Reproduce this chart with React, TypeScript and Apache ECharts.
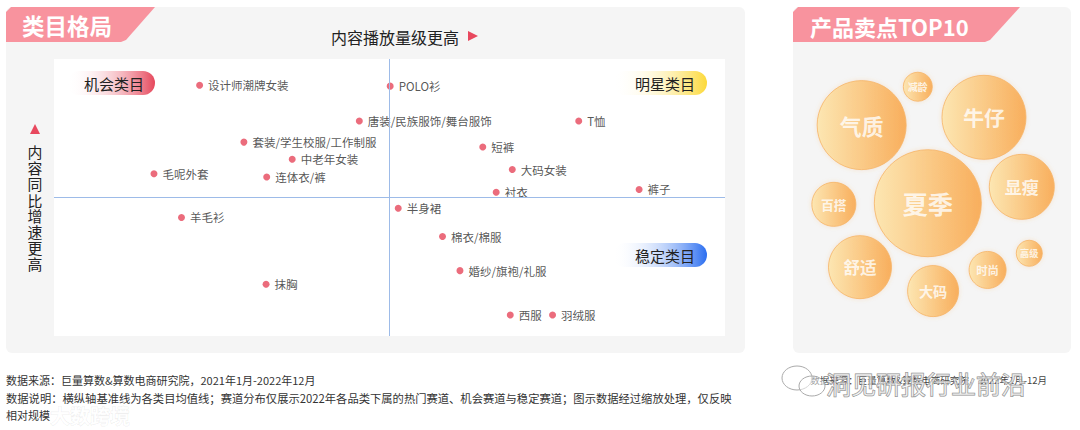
import React, { useEffect, useRef } from "react";
import * as echarts from "echarts";

// ---- Data: category landscape (scaled 0-100) ----
const categories = [
  "设计师潮牌女装", "POLO衫", "唐装/民族服饰/舞台服饰", "T恤", "套装/学生校服/工作制服",
  "短裤", "中老年女装", "大码女装", "毛呢外套", "连体衣/裤", "衬衣", "裤子", "半身裙",
  "羊毛衫", "棉衣/棉服", "婚纱/旗袍/礼服", "抹胸", "西服", "羽绒服",
];
const playVolume = [21.7, 50.1, 45.5, 78.2, 28.3, 63.9, 35.5, 68.3, 14.9, 31.7, 65.9, 87.2, 51.3, 19.0, 57.9, 60.5, 31.6, 68.0, 74.3];
const growthRate = [90.5, 90.2, 77.6, 77.6, 70.0, 68.2, 63.8, 60.1, 58.6, 57.4, 51.9, 52.9, 46.1, 42.8, 35.9, 23.6, 18.7, 7.6, 7.6];
const meanPlay = 50;
const meanGrowth = 50;
const quadrantNames = ["机会类目", "明星类目", "稳定类目"];
const xAxisTitle = "内容播放量级更高";
const yAxisTitle = "内容同比增速更高";

// ---- Data: selling points TOP10 ----
const sellingPoints = ["夏季", "气质", "牛仔", "显瘦", "舒适", "大码", "百搭", "时尚", "减龄", "高级"];
const sellingScore = [107, 89, 84, 65, 63, 51, 44, 37, 29, 26];
const cloudX = [48.5, 24.7, 68.7, 82.3, 24.1, 50.4, 14.7, 70.0, 44.9, 85.0];
const cloudY = [45.6, 73.7, 76.5, 51.5, 22.6, 14.0, 45.2, 21.6, 87.5, 27.6];

const FONT = '"Noto Sans CJK SC", "Noto Sans", sans-serif';

export default function App() {
  const ref = useRef<HTMLDivElement>(null);

  useEffect(() => {
    if (!ref.current) return;
    const chart = echarts.init(ref.current, undefined, { renderer: "svg" });

    const pill = (x: number, y: number, w: number, color: string, text: string, tx: number) => [
      {
        type: "rect",
        shape: { x, y, width: w, height: 24, r: 12 },
        style: {
          fill: new echarts.graphic.LinearGradient(0, 0, 1, 0, [
            { offset: 0, color: "rgba(255,255,255,0)" },
            { offset: 1, color },
          ]),
        },
        silent: true,
      },
      {
        type: "text",
        style: { text, x: tx, y: y + 12, fill: "#222", font: `15px ${FONT}`, textAlign: "center", textVerticalAlign: "middle" },
        silent: true,
      },
    ];

    const verticalChars = yAxisTitle.split("").map((ch, i) => ({
      type: "text",
      style: { text: ch, x: 35, y: 152 + i * 16, fill: "#222", font: `13.5px ${FONT}`, textAlign: "center", textVerticalAlign: "middle" },
      scaleX: 1.1,
      scaleY: 1.1,
      originX: 35,
      originY: 152 + i * 16,
      silent: true,
    }));

    const option: any = {
      animation: false,
      textStyle: { fontFamily: FONT },
      graphic: [
        { type: "rect", shape: { x: 6, y: 7, width: 739, height: 346, r: 6 }, style: { fill: "#f5f5f5" }, silent: true },
        { type: "rect", shape: { x: 793, y: 7, width: 278, height: 346, r: 6 }, style: { fill: "#f5f5f5" }, silent: true },
        { type: "rect", shape: { x: 54, y: 59, width: 671, height: 277 }, style: { fill: "#ffffff" }, silent: true },
        { type: "polygon", shape: { points: [[6, 12], [11, 7], [155, 7], [126, 40], [121, 42], [6, 42]] }, style: { fill: "#f8939e" }, silent: true },
        { type: "polygon", shape: { points: [[793, 12], [798, 7], [1020, 7], [990, 40], [985, 42], [793, 42]] }, style: { fill: "#f8939e" }, silent: true },
        { type: "text", style: { text: "类目格局", x: 22, y: 25, fill: "#fff", font: `bold 22.5px ${FONT}`, textVerticalAlign: "middle" }, silent: true },
        { type: "text", style: { text: "产品卖点TOP10", x: 810, y: 26, fill: "#fff", font: `bold 22px ${FONT}`, textVerticalAlign: "middle" }, silent: true },
        { type: "text", style: { text: xAxisTitle, x: 395, y: 37, fill: "#222", font: `16px ${FONT}`, textAlign: "center", textVerticalAlign: "middle" }, silent: true },
        { type: "polygon", shape: { points: [[468, 31], [478, 36], [468, 41]] }, style: { fill: "#e8485e" }, silent: true },
        { type: "polygon", shape: { points: [[30, 134], [40, 134], [35, 124]] }, style: { fill: "#e8485e" }, silent: true },
        ...verticalChars,
        ...pill(67, 71, 88, "#e6485c", quadrantNames[0], 114),
        ...pill(613, 71, 94, "#fcd93a", quadrantNames[1], 665),
        ...pill(613, 243, 94, "#2b6ef0", quadrantNames[2], 665),
        { type: "text", style: { text: "数据来源：巨量算数&算数电商研究院，2021年1月-2022年12月", x: 6, y: 380, fill: "#333", font: `11px ${FONT}`, textVerticalAlign: "middle" }, silent: true },
        { type: "text", style: { text: "数据说明：横纵轴基准线为各类目均值线；赛道分布仅展示2022年各品类下属的热门赛道、机会赛道与稳定赛道；图示数据经过缩放处理，仅反映", x: 6, y: 398, fill: "#333", font: `11.3px ${FONT}`, textVerticalAlign: "middle" }, silent: true },
        { type: "text", style: { text: "相对规模", x: 6, y: 415, fill: "#333", font: `11px ${FONT}`, textVerticalAlign: "middle" }, silent: true },
        { type: "text", style: { text: "数据来源：巨量算数&算数电商研究院，2022年1月-12月", x: 1047, y: 380, fill: "#444", font: `9.5px ${FONT}`, textAlign: "right", textVerticalAlign: "middle" }, silent: true },
        { type: "text", style: { text: "大数跨境", x: 50, y: 415, fill: "rgba(255,255,255,0.75)", stroke: "rgba(0,0,0,0.08)", lineWidth: 1, font: `bold 20px ${FONT}`, textVerticalAlign: "middle" }, silent: true },
        { type: "ellipse", shape: { cx: 797, cy: 378, rx: 15, ry: 12 }, style: { fill: "rgba(255,255,255,0.5)", stroke: "#aaa", lineWidth: 1 }, silent: true },
        { type: "ellipse", shape: { cx: 812, cy: 386, rx: 13, ry: 10 }, style: { fill: "rgba(255,255,255,0.5)", stroke: "#aaa", lineWidth: 1 }, silent: true },
        { type: "text", style: { text: "洞见研报行业前沿", x: 826, y: 383, fill: "rgba(255,255,255,0.55)", stroke: "#8a8a8a", lineWidth: 1, font: `25px ${FONT}`, textVerticalAlign: "middle" }, silent: true },
      ],
      grid: [
        { left: 54, top: 59, width: 671, height: 277, show: false },
        { left: 793, top: 52, width: 278, height: 278, show: false },
      ],
      xAxis: [
        { type: "value", gridIndex: 0, min: 0, max: 100, show: false },
        { type: "value", gridIndex: 1, min: 0, max: 100, show: false },
      ],
      yAxis: [
        { type: "value", gridIndex: 0, min: 0, max: 100, show: false },
        { type: "value", gridIndex: 1, min: 0, max: 100, show: false },
      ],
      series: [
        {
          type: "scatter",
          xAxisIndex: 0,
          yAxisIndex: 0,
          symbolSize: 7,
          itemStyle: { color: "#e6475b" },
          label: { show: true, position: "right", distance: 5, formatter: "{b}", color: "#2a2a2a", fontSize: 11.5, fontFamily: FONT },
          data: categories.map((name, i) => ({ name, value: [playVolume[i], growthRate[i]] })),
          markLine: {
            silent: true,
            symbol: "none",
            label: { show: false },
            lineStyle: { color: "#9dbbe8", width: 1, type: "solid" },
            data: [{ xAxis: meanPlay }, { yAxis: meanGrowth }],
          },
          z: 3,
        },
        {
          type: "scatter",
          xAxisIndex: 1,
          yAxisIndex: 1,
          symbolSize: (v: number[]) => v[2],
          itemStyle: {
            color: new echarts.graphic.LinearGradient(0, 0, 1, 0, [
              { offset: 0, color: "#fee6a8" },
              { offset: 1, color: "#f9a140" },
            ]),
            borderColor: "#f6b466",
            borderWidth: 1,
            shadowBlur: 4,
            shadowColor: "rgba(240,150,60,0.25)",
          },
          data: sellingPoints.map((name, i) => ({
            name,
            value: [cloudX[i], cloudY[i], sellingScore[i]],
            label: { fontSize: Math.round((4 + sellingScore[i] * 0.2) * 10) / 10 },
          })),
          label: { show: true, position: "inside", formatter: "{b}", color: "#fff", fontWeight: "bold", fontFamily: FONT },
          z: 3,
        },
      ],
    };

    chart.setOption(option);
    return () => chart.dispose();
  }, []);

  return <div ref={ref} style={{ position: "absolute", left: 0, top: 0, width: 1080, height: 430 }} />;
}
